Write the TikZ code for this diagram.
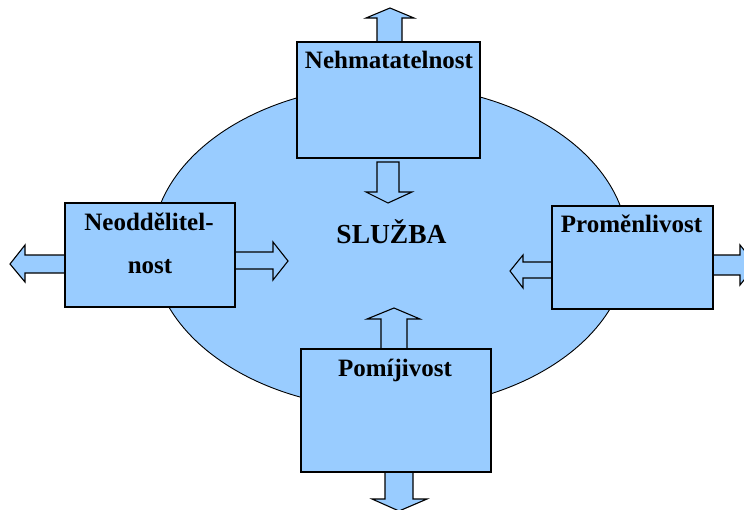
\documentclass[tikz,border=0pt]{standalone}
\usepackage{fontspec}
\setmainfont{Liberation Serif}
\definecolor{svcblue}{RGB}{153,204,255}
\begin{document}
\begin{tikzpicture}[x=1pt,y=-1pt,
  box/.style={draw=black, line width=1.3pt, fill=svcblue, inner sep=0pt},
  blockarrow/.style={draw=black, line width=1.1pt, fill=svcblue, line join=miter},
  lbl/.style={font=\fontsize{25}{30}\selectfont\bfseries, anchor=base, inner sep=0pt}]
\clip (0,0) rectangle (744,509);
\fill[white] (0,0) rectangle (744,509);
% central ellipse
\draw[fill=svcblue, line width=0.9pt] (390,247) ellipse [x radius=238pt, y radius=162pt];
% block arrows
\draw[blockarrow] (377,42) -- (377,18) -- (366,18) -- (390,8) -- (414,18) -- (402,18) -- (402,42);
\draw[blockarrow] (377,162) -- (399,162) -- (399,192) -- (412,192) -- (388,203) -- (366,192) -- (377,192) -- cycle;
\draw[blockarrow] (65,255) -- (25,255) -- (25,245) -- (10,264) -- (25,282) -- (25,273) -- (65,273);
\draw[blockarrow] (235,252) -- (273,252) -- (273,242) -- (288,261) -- (273,280) -- (273,269) -- (235,269);
\draw[blockarrow] (552,262) -- (523,262) -- (523,255) -- (510,271) -- (523,288) -- (523,278) -- (552,278);
\draw[blockarrow] (713,255) -- (740,255) -- (740,245) -- (756,265) -- (740,285) -- (740,275) -- (713,275);
\draw[blockarrow] (381,349) -- (381,319) -- (367,319) -- (394,308) -- (420,319) -- (407,319) -- (407,349);
\draw[blockarrow] (385,472) -- (385,499) -- (372,499) -- (399,511) -- (427,499) -- (413,499) -- (413,472);
% boxes
\node[box, minimum width=183pt, minimum height=116pt] (nehm) at (388.5,100) {};
\node[box, minimum width=170pt, minimum height=104pt] (neod) at (150,255) {};
\node[box, minimum width=161pt, minimum height=103pt] (prom) at (632.5,257.5) {};
\node[box, minimum width=190pt, minimum height=123pt] (pomi) at (396,410.5) {};
% labels
\node[lbl] (nehmT) at (389,68) {Nehmatatelnost};
\node[lbl] (neodT1) at (149,230) {Neoddělitel-};
\node[lbl] (neodT2) at (150,273) {nost};
\node[lbl] (promT) at (631.5,232) {Proměnlivost};
\node[lbl] (pomiT) at (395,376) {Pomíjivost};
\node[lbl, font=\fontsize{27.5}{33}\selectfont\bfseries] (sluzba) at (391.5,243) {SLUŽBA};
\end{tikzpicture}
\end{document}
